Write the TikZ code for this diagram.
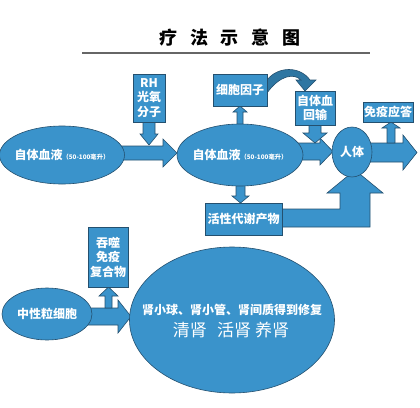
\documentclass[tikz,border=0pt]{standalone}
\usepackage{fontspec}
\newfontfamily\cjk{Noto Sans CJK SC}
\newcommand\smalltxt{\fontsize{6.3}{7}\selectfont}
\usetikzlibrary{shapes.geometric}
\definecolor{bl}{HTML}{3A93CB}
\definecolor{ol}{HTML}{24506F}
\begin{document}
\begin{tikzpicture}[x=1pt,y=-1pt,
  sh/.style={fill=bl,draw=ol,line width=0.6pt},
  ell/.style={sh,ellipse,inner sep=0pt},
  bx/.style={sh,rectangle,inner sep=0pt},
  txt/.style={text=white,font=\cjk\bfseries\fontsize{12}{14.5}\selectfont,align=center,inner sep=0pt}]
\useasboundingbox (0,0) rectangle (420,407);
\fill[white] (0,0) rectangle (420,407);
% title
\node[font=\cjk\bfseries\fontsize{18}{20}\selectfont] (title) at (230,38) {疗\hspace{0.7em}法\hspace{0.7em}示\hspace{0.7em}意\hspace{0.7em}图};
\draw[gray!80!black, line width=1.5pt] (82,53) -- (370,53);

% arrows (drawn first, shapes overlay them)
% e1 -> e2
\draw[sh] (110,146) -- (163,146) -- (163,139) -- (177,153) -- (163,167) -- (163,160) -- (110,160) -- cycle;
% RH down
\draw[sh] (143,122) -- (155,122) -- (155,134) -- (158,134) -- (149,145) -- (140,134) -- (143,134) -- cycle;
% e2 up to cytokine
\draw[sh] (237,128) -- (243,128) -- (243,112) -- (247,112) -- (240,106) -- (233,112) -- (237,112) -- cycle;
% e2 -> body
\draw[sh] (295,143) -- (320,143) -- (320,138) -- (333,151.5) -- (320,165) -- (320,160) -- (295,160) -- cycle;
% reinfusion down
\draw[sh] (309,125) -- (321,125) -- (321,133) -- (327,133) -- (315,143) -- (303,133) -- (309,133) -- cycle;
% body -> right
\draw[sh] (365,143) -- (403,143) -- (403,135) -- (417,152.5) -- (403,170) -- (403,162) -- (365,162) -- cycle;
% up to immune response
\draw[sh] (387,143) -- (395,143) -- (395,128) -- (400,128) -- (391,122) -- (382,128) -- (387,128) -- cycle;
% e2 down to metabolites
\draw[sh] (236,183) -- (245,183) -- (245,196) -- (249,196) -- (240.5,203) -- (232,196) -- (236,196) -- cycle;
% bent arrow metabolites -> body
\draw[sh] (282,209) -- (340,209) -- (340,193) -- (327,193) -- (355,170) -- (383,193) -- (370,193) -- (370,227) -- (282,227) -- cycle;
% curved arrow cytokine -> reinfusion
\draw[sh,fill=bl!80!black] (267,80) .. controls (278,66) and (300,66) .. (310,80) -- (316,80) -- (305,91) -- (296,80) -- (301,80) .. controls (294,73) and (280,75) .. (267,93) -- cycle;
% neutrophil -> big ellipse
\draw[sh] (85,308) -- (118,308) -- (118,300) -- (131,316.5) -- (118,333) -- (118,325) -- (85,325) -- cycle;
% up to phagocytosis
\draw[sh] (105,308) -- (112,308) -- (112,296) -- (118,296) -- (108.5,287) -- (99,296) -- (105,296) -- cycle;

% shapes
\node[ell,minimum width=125pt,minimum height=58pt] (e1) at (62,155) {};
\node[txt] (e1t) at (e1.center) {自体血液{\smalltxt（50-100毫升）}};
\node[bx,minimum width=32pt,minimum height=48pt] (rh) at (149,98) {};
\node[txt] (rht) at (rh.center) {RH\\光氧\\分子};
\node[ell,minimum width=126pt,minimum height=62pt] (e2) at (240,155) {};
\node[txt] (e2t) at (e2.center) {自体血液{\smalltxt（50-100毫升）}};
\node[bx,minimum width=54pt,minimum height=32pt] (cy) at (240,90) {};
\node[txt] (cyt) at (cy.center) {细胞因子};
\node[bx,minimum width=40pt,minimum height=34pt] (ri) at (315,108) {};
\node[txt] (rit) at (ri.center) {自体血\\回输};
\node[ell,minimum width=40pt,minimum height=50pt] (body) at (352,152) {};
\node[txt] (bodyt) at (body.center) {人体};
\node[bx,minimum width=50pt,minimum height=20pt] (im) at (388,112) {};
\node[txt] (imt) at (im.center) {免疫应答};
\node[bx,minimum width=77pt,minimum height=32pt] (me) at (243.5,219) {};
\node[txt] (met) at (me.center) {活性代谢产物};
\node[ell,minimum width=90pt,minimum height=52pt] (ne) at (47,314) {};
\node[txt] (net) at (ne.center) {中性粒细胞};
\node[bx,minimum width=40pt,minimum height=60pt] (ph) at (108,257) {};
\node[txt] (pht) at (ph.center) {吞噬\\免疫\\复合物};
\node[ell,minimum width=205pt,minimum height=146pt] (big) at (232,320) {};
\node[txt] (big1) at (232,310) {肾小球、肾小管、肾间质得到修复};
\node[txt,font=\cjk\fontsize{17}{18}\selectfont] (big2) at (231,330) {清肾\hspace{0.6em}活肾 养肾};
\end{tikzpicture}
\end{document}
